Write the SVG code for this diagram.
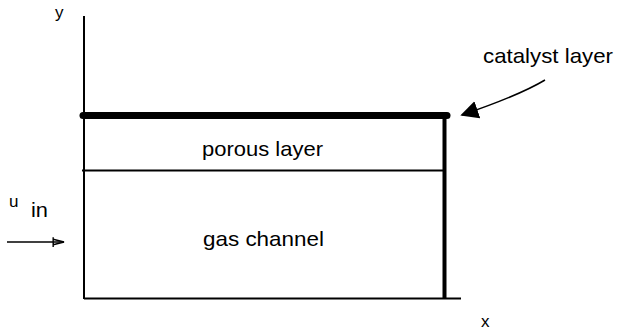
<svg xmlns="http://www.w3.org/2000/svg" width="620" height="335" viewBox="0 0 620 335">
<defs>
<style>
text{font-family:"Liberation Sans",Arial,sans-serif;fill:#000}
.ln{stroke:#000;fill:none}
</style>
<marker id="filled" viewBox="0 0 10 10" refX="9" refY="5" markerWidth="18" markerHeight="20" markerUnits="userSpaceOnUse" orient="auto"><path d="M0,0 L10,5 L0,10 Z" fill="#000"/></marker>
<marker id="open" viewBox="0 0 12 10" refX="11" refY="5" markerWidth="13" markerHeight="11" markerUnits="userSpaceOnUse" orient="auto"><path d="M1,0.5 L1,9.5 M1,2.5 L11,5 L1,7.5" fill="none" stroke="#000" stroke-width="1.3"/></marker>
</defs>
<rect width="620" height="335" fill="#fff"/>
<g id="axes">
<line class="ln" x1="84" y1="16" x2="84" y2="299" stroke-width="2"/>
<line class="ln" x1="84" y1="298.5" x2="461" y2="298.5" stroke-width="2"/>
<text x="55" y="18" font-size="17">y</text>
<text x="481" y="327" font-size="17">x</text>
</g>
<g id="catalyst-layer">
<line class="ln" x1="83" y1="115.5" x2="447" y2="115.5" stroke-width="7" stroke-linecap="round"/>
<text x="483" y="63" font-size="21" textLength="130" lengthAdjust="spacingAndGlyphs">catalyst layer</text>
</g>
<g id="porous-layer">
<line class="ln" x1="82" y1="170.5" x2="445" y2="170.5" stroke-width="2"/>
<line class="ln" x1="444.5" y1="116" x2="444.5" y2="299" stroke-width="4"/>
<text x="202" y="156" font-size="21" textLength="121" lengthAdjust="spacingAndGlyphs">porous layer</text>
</g>
<g id="gas-channel">
<text x="203" y="246" font-size="21" textLength="121" lengthAdjust="spacingAndGlyphs">gas channel</text>
</g>
<g id="inlet">
<text x="9" y="207" font-size="17">u</text>
<text x="31" y="217" font-size="20" textLength="17" lengthAdjust="spacingAndGlyphs">in</text>
</g>
<g id="connectors">
<path class="ln" d="M7,242 L64,242" stroke-width="1.5" marker-end="url(#open)"/>
<path class="ln" d="M545,80 C525,92 500,102 462,115" stroke-width="1.5" marker-end="url(#filled)"/>
</g>
</svg>
